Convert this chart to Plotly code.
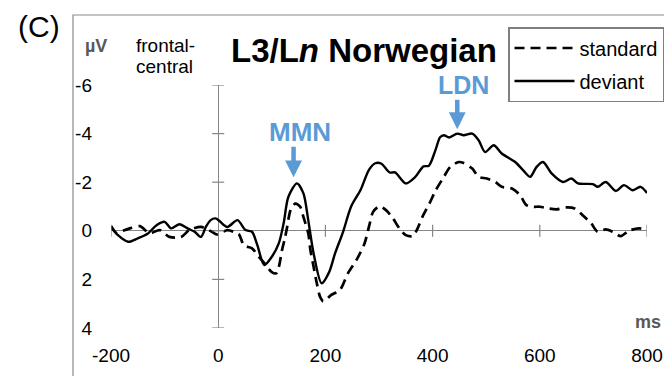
import plotly.graph_objects as go

# ---------------- data ----------------
std_t = [-200, -189, -178, -165, -146, -128, -109, -91, -69, -54, -32, -20, -11, -3,
         8, 17, 30, 39, 48, 63, 76, 85, 100, 108, 113, 119, 125, 129, 135, 144, 153,
         159, 168, 172, 178, 184, 190, 196, 211, 227, 242, 258, 273, 282, 289, 301,
         313, 326, 338, 350, 363, 372, 381, 394, 406, 421, 433, 449, 458, 474, 486,
         501, 517, 529, 548, 563, 575, 588, 600, 616, 631, 649, 665, 680, 696, 708,
         723, 736, 751, 766, 785, 800]
std_v = [-0.2, 0.1, 0.0, -0.1, -0.19, 0.1, -0.03, 0.25, 0.25, -0.03, -0.16, -0.05, 0.05, 0.15,
         0.05, -0.03, 0.05, 0.15, 0.6, 0.72, 1.07, 1.3, 1.7, 1.75, 1.5, 0.8, 0.25, -0.2, -0.85, -1.12, -0.99,
         -0.57, 0.1, 0.79, 1.48, 2.16, 2.71, 2.9, 2.64, 2.44, 1.75, 1.2, 0.52, -0.23, -0.78, -1.01,
         -0.85, -0.51, -0.1, 0.18, 0.22, -0.1, -0.57, -1.12, -1.67, -2.22, -2.63, -2.83, -2.79, -2.56, -2.22,
         -2.15, -2.01, -1.81, -1.74, -1.47, -1.06, -0.99, -0.99, -0.92, -0.88, -0.96, -0.92, -0.64, -0.3, 0.04,
         -0.06, 0.04, 0.22, 0.0, -0.1, -0.03]

dev_t = [-200, -187, -168, -150, -131, -115, -100, -88, -72, -57, -44, -32, -23, -14, -5,
         2, 17, 36, 51, 63, 73, 86, 100, 113, 122, 131, 147, 159, 168, 178, 193,
         207, 218, 233, 248, 266, 281, 293, 304, 320, 330, 350, 367, 383, 393, 405, 414,
         421, 431, 446, 458, 474, 486, 498, 514, 529, 554, 569, 582, 594, 606, 622, 643,
         659, 671, 699, 708, 723, 742, 757, 773, 788, 800]
dev_v = [-0.16, 0.18, 0.45, 0.31, 0.11, -0.23, -0.37, -0.1, -0.27, -0.1, 0.04, 0.25, -0.16, -0.44, -0.51,
         -0.41, -0.16, -0.44, -0.03, 0.04, 0.59, 1.41, 1.07, 0.52, -0.3, -1.4, -1.95, -1.54, -0.44, 0.93, 2.16,
         1.7, 0.93, 0.04, -1.0, -1.7, -2.5, -2.78, -2.77, -2.4, -2.4, -1.95, -2.2, -2.65, -2.68, -3.3, -3.85,
         -3.93, -3.84, -4.0, -3.93, -4.0, -3.72, -3.24, -3.52, -3.18, -2.83, -2.49, -2.22, -2.63, -2.83, -2.36, -2.01,
         -2.15, -1.95, -1.92, -1.81, -2.01, -1.64, -1.88, -1.67, -1.81, -1.56]

x_ticks = [-200, 0, 200, 400, 600, 800]
x_tick_text = ["-200", "0", "200", "400", "600", "800"]
y_ticks = [-6, -4, -2, 0, 2, 4]
y_tick_text = ["-6", "-4", "-2", "0", "2", "4"]

mmn_point = (140.6, -2.2)
ldn_point = (446, -4.18)

# ---------------- layout helpers ----------------
W, H = 664, 376
L, R, T, B = 111, 17, 85, 48
PW, PH = W - L - R, H - T - B
FONT = "Arial, Liberation Sans, sans-serif"
BLUE = "#5B9BD5"
AXC = "#868686"


def px(x):
    return (x - L) / PW


def py(y):
    return (H - B - y) / PH


fig = go.Figure()
fig.add_trace(go.Scatter(
    x=std_t, y=std_v, mode="lines", name="standard", legendgroup="a",
    line=dict(color="black", width=2.7, dash="10px,6px", shape="spline", smoothing=0.8)))
fig.add_trace(go.Scatter(
    x=dev_t, y=dev_v, mode="lines", name="deviant", legendgroup="b",
    line=dict(color="black", width=2.4, shape="spline", smoothing=0.8)))

shapes = []
for t in x_ticks:
    if t == 0:
        continue
    shapes.append(dict(type="line", xref="x", yref="y", x0=t, x1=t,
                       ysizemode="pixel", yanchor=0, y0=-6, y1=6,
                       line=dict(color=AXC, width=1.2)))
for v in y_ticks:
    shapes.append(dict(type="line", xref="x", yref="y", y0=v, y1=v,
                       xsizemode="pixel", xanchor=0, x0=-6, x1=6,
                       line=dict(color=AXC, width=1.2)))
# outer frame
shapes.append(dict(type="rect", xref="paper", yref="paper",
                   x0=px(73), x1=px(720), y0=py(420), y1=py(15),
                   line=dict(color="#8a8a8a", width=1.2), layer="below"))

ann = [
    dict(text="(C)", x=px(39), y=py(27), font=dict(size=30)),
    dict(text="<b>µV</b>", x=px(83), y=py(46), xanchor="left", font=dict(size=18, color="#595959")),
    dict(text="frontal-", x=px(134), y=py(46), xanchor="left", font=dict(size=19)),
    dict(text="central", x=px(134), y=py(66), xanchor="left", font=dict(size=19)),
    dict(text="<b>L3/L<i>n</i> Norwegian</b>", x=px(229), y=py(51), xanchor="left", font=dict(size=33)),
    dict(text="<b>ms</b>", x=px(663), y=py(322), xanchor="right", font=dict(size=18, color="#595959")),
    dict(text="<b>MMN</b>", x=px(300), y=py(132), font=dict(size=26, color=BLUE)),
    dict(text="<b>LDN</b>", x=px(463), y=py(85), font=dict(size=25, color=BLUE)),
]
for a in ann:
    a.update(xref="paper", yref="paper", showarrow=False)
    a.setdefault("xanchor", "center")
    a["yanchor"] = "middle"
    a["font"].setdefault("color", "black")
    a["font"]["family"] = FONT

for (xx, yy), ay in ((mmn_point, -32), (ldn_point, -31)):
    ann.append(dict(x=xx, y=yy, xref="x", yref="y", text="", showarrow=True,
                    ax=0, ay=ay, arrowhead=2, arrowsize=0.75, arrowwidth=4.5,
                    arrowcolor=BLUE, standoff=0))

fig.update_layout(
    width=W, height=H,
    margin=dict(l=L, r=R, t=T, b=B, autoexpand=False),
    paper_bgcolor="white", plot_bgcolor="white",
    font=dict(family=FONT, size=19, color="black"),
    shapes=shapes, annotations=ann,
    showlegend=True,
    legend=dict(x=px(508), y=py(27), xanchor="left", yanchor="top",
                bordercolor="#7f7f7f", borderwidth=1.5, bgcolor="white",
                font=dict(size=20, color="black", family=FONT),
                tracegroupgap=4, traceorder="grouped", itemwidth=60,
                entrywidth=190, entrywidthmode="pixels"),
    xaxis=dict(range=[-200, 800], tickvals=x_ticks, ticktext=x_tick_text,
               showgrid=False, showline=False, ticks="",
               zeroline=True, zerolinecolor=AXC, zerolinewidth=1.2,
               ticklabelstandoff=14, ticklabeloverflow="allow",
               tickfont=dict(size=19), fixedrange=True),
    yaxis=dict(range=[4, -6], tickvals=y_ticks, ticktext=y_tick_text,
               showgrid=False, showline=False, ticks="",
               zeroline=True, zerolinecolor=AXC, zerolinewidth=1.2,
               ticklabelstandoff=18, tickfont=dict(size=19), fixedrange=True),
)

fig.write_html("out.html", config={"displayModeBar": False},
               post_script="document.body.style.margin='0px';document.body.style.overflow='hidden';")
